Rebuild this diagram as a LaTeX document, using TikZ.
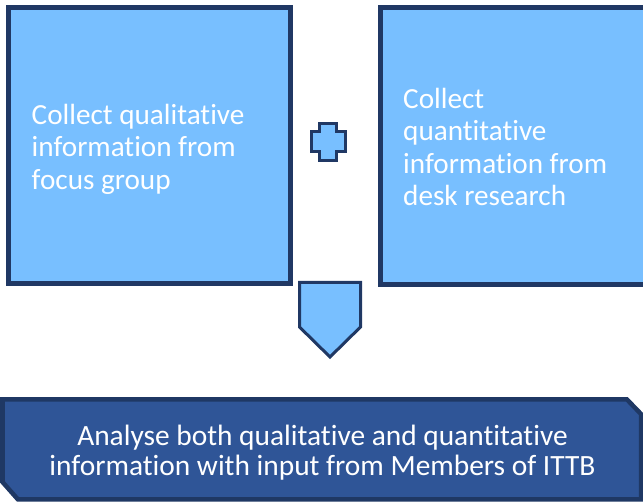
\documentclass[tikz,border=0pt]{standalone}
\usepackage{fontspec}
\setmainfont[RawFeature={-liga;-clig;-calt;-dlig;-rlig}]{Carlito}
\definecolor{paleblue}{HTML}{78BFFF}
\definecolor{navyedge}{HTML}{203864}
\definecolor{bannerfill}{HTML}{2F5597}
\definecolor{banneredge}{HTML}{1F3864}
\tikzset{
  inputbox/.style={draw=navyedge, fill=paleblue, line width=5pt, rectangle, inner sep=0pt},
  symbolshape/.style={draw=navyedge, fill=paleblue, line width=3pt, line join=miter},
  boxtext/.style={text=white, align=left, anchor=west, inner sep=0pt,
    font=\fontsize{29.2}{32.5}\selectfont},
  bannertext/.style={text=white, align=center, inner sep=0pt,
    font=\fontsize{29.4}{30.5}\selectfont},
}
\begin{document}
\begin{tikzpicture}[x=1pt,y=-1pt]
\useasboundingbox (0,0) rectangle (643,502);
\clip (0,0) rectangle (643,502);

% two input boxes
\node[inputbox, minimum width=282pt, minimum height=276pt] (qual) at (149.5,145.5) {};
\node[inputbox, minimum width=290pt, minimum height=277pt] (quant) at (525.5,146) {};

\node[boxtext] (qualtext) at (31.5,149) {Collect qualitative\\information from\\focus group};
\node[boxtext] (quanttext) at (403,147) {Collect\\quantitative\\information from\\desk research};

% plus sign between the boxes
\draw[symbolshape] (319.5,123.5) -- (336.5,123.5) -- (336.5,131.5) -- (345.5,131.5)
  -- (345.5,151.5) -- (336.5,151.5) -- (336.5,160.5) -- (319.5,160.5)
  -- (319.5,151.5) -- (311.5,151.5) -- (311.5,131.5) -- (319.5,131.5) -- cycle;

% downward pentagon arrow
\draw[symbolshape] (299.5,282.5) -- (360.5,282.5) -- (360.5,327) -- (330,357)
  -- (299.5,327) -- cycle;

% result banner with two snipped corners
\draw[draw=banneredge, fill=bannerfill, line width=4.5pt, line join=miter]
  (2.5,399.5) -- (627,399.5) -- (641,414) -- (641,499.5) -- (18,499.5)
  -- (2.5,482) -- cycle;
\node[bannertext] (result) at (322.5,452.5) {Analyse both qualitative and quantitative\\information with input from Members of ITTB};
\end{tikzpicture}
\end{document}
